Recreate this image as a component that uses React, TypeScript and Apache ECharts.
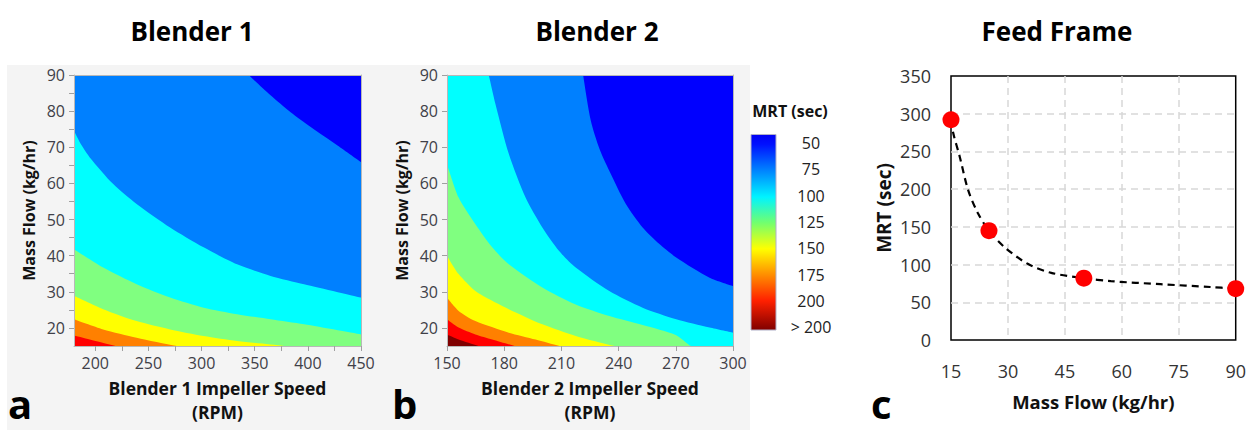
import React, { useEffect, useRef } from 'react';
import * as echarts from 'echarts';

// ---------- DATA ----------
const panelTitles = ['Blender 1', 'Blender 2', 'Feed Frame'];
const panelLetters = ['a', 'b', 'c'];

const flowRange = [15, 90];
const flowLabelValues = [20, 30, 40, 50, 60, 70, 80, 90];
const flowMinorTicks = [20, 25, 30, 35, 40, 45, 50, 55, 60, 65, 70, 75, 80, 85, 90];

const b1SpeedRange = [180, 450];
const b1SpeedLabels = [200, 250, 300, 350, 400, 450];
const b1SpeedTicks = [200, 225, 250, 275, 300, 325, 350, 375, 400, 425, 450];

const b2SpeedRange = [150, 300];
const b2SpeedLabels = [150, 180, 210, 240, 270, 300];

// contour band colours (lowest MRT -> highest MRT)
const bandColors = ['#0000ff', '#0080ff', '#00ffff', '#80ff80', '#ffff00', '#ff8000', '#ff0000', '#800000'];
const legendLabels = ['50', '75', '100', '125', '150', '175', '200', '> 200'];
const legendGradient = [
  [0.0, '#0000f4'],
  [0.05, '#0010ff'],
  [0.18, '#0080ff'],
  [0.32, '#00f4ff'],
  [0.45, '#70ff70'],
  [0.585, '#ffff00'],
  [0.715, '#ff9000'],
  [0.85, '#ff2000'],
  [1.0, '#800000'],
];

// Blender 1: contour boundaries [rpm, flow] (points beyond 15..90 run outside the plot)
const b1Top = [[180, 90], [450, 90]];
const b1Bound75 = [[180, 100], [312, 100], [344.4, 90], [364.9, 84.4], [383.8, 79.7], [402.7, 75.6], [427.9, 70.5], [450, 65.9]];
const b1Bound100 = [[180, 74.6], [187, 70.6], [194.8, 67.2], [216.9, 59.8], [238.9, 54.3], [270.4, 47.8], [301.9, 42.3], [333.4, 37.6], [364.9, 34.4], [396.4, 32.1], [450, 28.4]];
const b1Bound125 = [[180, 41.8], [207.4, 36.7], [238.9, 32.1], [270.4, 28.4], [301.9, 25.6], [333.4, 23.8], [364.9, 22.4], [396.4, 21.0], [450, 18.2]];
const b1Bound150 = [[180, 28.9], [207.4, 25.2], [238.9, 21.9], [270.4, 19.6], [301.9, 17.8], [333.4, 16.4], [377.5, 15], [420, 13], [450, 13]];
const b1Bound175 = [[180, 22.4], [207.4, 19.6], [238.9, 17.3], [276.7, 15], [320, 13], [450, 13]];
const b1Bound200 = [[180, 17.9], [194.8, 16.8], [219, 15], [245, 13], [450, 13]];

// Blender 2: contour boundaries [rpm, flow]
const b2Top = [[150, 90], [300, 90]];
const b2Bound75 = [[150, 100], [219, 100], [221.4, 90], [225.4, 77.4], [230, 69.5], [235.1, 63.5], [243.8, 54.3], [252.6, 47.8], [261.4, 43.2], [270.2, 39.5], [287.7, 33.9], [300, 31.6]];
const b2Bound100 = [[150, 100], [167.5, 100], [171.9, 90], [175.4, 82.0], [182.4, 68.2], [191.2, 56.1], [200, 47.8], [208.8, 41.3], [217.5, 36.7], [235.1, 30.2], [252.6, 25.6], [270.2, 22.4], [287.7, 20.1], [300, 18.7]];
const b2Bound125 = [[150, 65.4], [156.1, 56.1], [164.9, 48.7], [173.7, 42.3], [182.4, 37.6], [200, 31.2], [217.5, 26.5], [235.1, 23.3], [252.6, 20.8], [270.2, 18.0], [278, 15], [290, 13], [300, 13]];
const b2Bound150 = [[150, 40.0], [156.1, 34.9], [164.9, 30.2], [173.7, 27.5], [182.4, 25.2], [200, 21.0], [217.5, 17.8], [238, 15], [258, 13], [300, 13]];
const b2Bound175 = [[150, 28.4], [156.1, 24.7], [164.9, 21.9], [182.4, 18.7], [196.5, 16.8], [209, 15], [225, 13], [300, 13]];
const b2Bound200 = [[150, 22.4], [156.1, 20.1], [164.9, 18.2], [173.7, 16.8], [185.4, 15], [198, 13], [300, 13]];
const b2BoundOver = [[150, 18.2], [156.1, 16.8], [166.5, 15], [176, 13], [300, 13]];

// Feed frame
const feedFlow = [15, 25, 50, 90];
const feedMrt = [292, 145, 82, 68];
const fitFlow = [15, 15.6, 17.3, 19.5, 22.1, 25, 29.1, 35.2, 41.4, 50, 57.1, 70.2, 83.3, 90];
const fitMrt = [292, 274, 243, 199, 168, 145, 123, 101, 89, 82, 78, 74, 70.3, 68];
const feedXRange = [15, 90];
const feedYRange = [0, 350];

const FONT = '"Open Sans", "Noto Sans", sans-serif';

function bandSeries(layers: number[][][], idx: number) {
  return layers.map((data, i) => ({
    type: 'line',
    xAxisIndex: idx,
    yAxisIndex: idx,
    data,
    smooth: 0.25,
    clip: true,
    symbol: 'none',
    showSymbol: false,
    silent: true,
    lineStyle: { width: 0, color: bandColors[i] },
    areaStyle: { color: bandColors[i], opacity: 1, origin: 'start' },
  }));
}

function contourAxes(idx: number, xr: number[], xName: string, xLabelVals: number[], xTickVals: number[], yTickVals: number[]) {
  const tickColor = '#a0a0a0';
  const x = [
    {
      gridIndex: idx, type: 'value', min: xr[0], max: xr[1], z: 10,
      axisLine: { show: true, lineStyle: { color: '#b8b8b8', width: 1 } },
      axisTick: { show: true, length: 5, lineStyle: { color: tickColor }, customValues: xTickVals },
      axisLabel: { customValues: xLabelVals, color: '#404048', fontSize: 16, margin: 9, fontFamily: FONT },
      splitLine: { show: false },
      name: xName, nameLocation: 'middle', nameGap: 30,
      nameTextStyle: { fontWeight: 'bold', fontSize: 17.5, color: '#111', lineHeight: 24, fontFamily: FONT },
    },
    {
      gridIndex: idx, type: 'value', min: xr[0], max: xr[1], position: 'top', z: 10,
      axisLine: { show: true, lineStyle: { color: '#b8b8b8', width: 1 } },
      axisTick: { show: false }, axisLabel: { show: false }, splitLine: { show: false },
    },
  ];
  const y = [
    {
      gridIndex: idx, type: 'value', min: flowRange[0], max: flowRange[1], z: 10,
      axisLine: { show: true, lineStyle: { color: '#b8b8b8', width: 1 } },
      axisTick: { show: true, length: 5, lineStyle: { color: tickColor }, customValues: yTickVals },
      axisLabel: { customValues: flowLabelValues, color: '#404048', fontSize: 16, margin: 9, fontFamily: FONT },
      splitLine: { show: false },
      name: 'Mass Flow (kg/hr)', nameLocation: 'middle', nameGap: 37,
      nameTextStyle: { fontWeight: 'bold', fontSize: 16, color: '#111', fontFamily: FONT },
    },
    {
      gridIndex: idx, type: 'value', min: flowRange[0], max: flowRange[1], position: 'right', z: 10,
      axisLine: { show: true, lineStyle: { color: '#b8b8b8', width: 1 } },
      axisTick: { show: false }, axisLabel: { show: false }, splitLine: { show: false },
    },
  ];
  return { x, y };
}

export default function App() {
  const ref = useRef<HTMLDivElement>(null);

  useEffect(() => {
    if (!ref.current) return;
    const chart = echarts.init(ref.current, undefined, { renderer: 'svg' });

    const A = contourAxes(0, b1SpeedRange, 'Blender 1 Impeller Speed\n(RPM)', b1SpeedLabels, b1SpeedTicks, flowMinorTicks);
    const B = contourAxes(1, b2SpeedRange, 'Blender 2 Impeller Speed\n(RPM)', b2SpeedLabels, b2SpeedLabels, flowLabelValues);

    // axis order: 0 A bottom, 1 A top, 2 B bottom, 3 B top, 4 C
    const xAxes: any[] = [...A.x, ...B.x, {
      gridIndex: 2, type: 'value', min: feedXRange[0], max: feedXRange[1], interval: 15,
      axisLine: { show: false }, axisTick: { show: false },
      axisLabel: { color: '#333', fontSize: 18, margin: 22, fontFamily: FONT },
      splitLine: { show: true, showMinLine: false, showMaxLine: false, lineStyle: { color: '#d8d8d8', width: 1.5, type: [7, 5] } },
      name: 'Mass Flow (kg/hr)', nameLocation: 'middle', nameGap: 52,
      nameTextStyle: { fontWeight: 'bold', fontSize: 18.5, color: '#111', fontFamily: FONT },
    }];
    const yAxes: any[] = [...A.y, ...B.y, {
      gridIndex: 2, type: 'value', min: feedYRange[0], max: feedYRange[1], interval: 50,
      axisLine: { show: false }, axisTick: { show: false },
      axisLabel: { color: '#333', fontSize: 18, margin: 20, fontFamily: FONT },
      splitLine: { show: true, showMinLine: false, showMaxLine: false, lineStyle: { color: '#d8d8d8', width: 1.5, type: [7, 5] } },
      name: 'MRT (sec)', nameLocation: 'middle', nameGap: 58,
      nameTextStyle: { fontWeight: 'bold', fontSize: 19, color: '#111', fontFamily: FONT },
    }];

    const seriesA = bandSeries([b1Top, b1Bound75, b1Bound100, b1Bound125, b1Bound150, b1Bound175, b1Bound200], 0);
    const seriesB = bandSeries([b2Top, b2Bound75, b2Bound100, b2Bound125, b2Bound150, b2Bound175, b2Bound200, b2BoundOver], 2)
      .map((s: any) => ({ ...s, xAxisIndex: 2, yAxisIndex: 2 }));

    const barX = 751, barY = 134.5, barW = 25, barH = 195.5;
    const graphics: any[] = [
      { type: 'rect', z: -100, silent: true, shape: { x: 7, y: 65, width: 743, height: 370 }, style: { fill: '#f4f4f4' } },
      ...panelTitles.map((t, i) => ({
        type: 'text', x: [192, 597, 1057][i], y: 31, silent: true,
        style: { text: t, fontSize: 26, fontWeight: 'bold', fontFamily: FONT, fill: '#000', align: 'center', verticalAlign: 'middle' },
      })),
      ...panelLetters.map((t, i) => ({
        type: 'text', x: [8, 392, 871][i], y: 403, silent: true,
        style: { text: t, fontSize: 40, fontWeight: 'bold', fontFamily: FONT, fill: '#000', align: 'left', verticalAlign: 'middle' },
      })),
      {
        type: 'rect', silent: true, shape: { x: barX, y: barY, width: barW, height: barH },
        style: {
          fill: new echarts.graphic.LinearGradient(0, 0, 0, 1, legendGradient.map(([o, c]) => ({ offset: o as number, color: c as string }))),
          stroke: '#b0b0c8', lineWidth: 1,
        },
      },
      {
        type: 'text', x: 790, y: 111, silent: true,
        style: { text: 'MRT (sec)', fontSize: 16, fontWeight: 'bold', fontFamily: FONT, fill: '#111', align: 'center', verticalAlign: 'middle' },
      },
      ...legendLabels.map((t, i) => ({
        type: 'text', x: 811, y: 143 + i * 26.3, silent: true,
        style: { text: t, fontSize: 16, fontFamily: FONT, fill: '#222', align: 'center', verticalAlign: 'middle' },
      })),
    ];

    const option: any = {
      animation: false,
      backgroundColor: '#ffffff',
      grid: [
        { left: 74, top: 75, width: 287, height: 271, containLabel: false },
        { left: 447, top: 75, width: 286, height: 271, containLabel: false },
        { left: 951, top: 76, width: 286, height: 264, containLabel: false, show: true, borderColor: '#000', borderWidth: 1.5, backgroundColor: 'transparent' },
      ],
      xAxis: xAxes,
      yAxis: yAxes,
      series: [
        ...seriesA,
        ...seriesB,
        {
          type: 'line', xAxisIndex: 4, yAxisIndex: 4, silent: true,
          data: fitFlow.map((f, i) => [f, fitMrt[i]]),
          smooth: 0.3, symbol: 'none', showSymbol: false,
          lineStyle: { color: '#000', width: 2.2, type: [7, 5] }, z: 4,
        },
        {
          type: 'scatter', xAxisIndex: 4, yAxisIndex: 4, silent: true,
          data: feedFlow.map((f, i) => [f, feedMrt[i]]),
          symbol: 'circle', symbolSize: 17, itemStyle: { color: '#ff0000', opacity: 1 }, z: 5,
        },
      ],
      graphic: graphics,
    };
    chart.setOption(option);
    return () => chart.dispose();
  }, []);

  return <div ref={ref} style={{ position: 'absolute', left: 0, top: 0, width: 1249, height: 430 }} />;
}
